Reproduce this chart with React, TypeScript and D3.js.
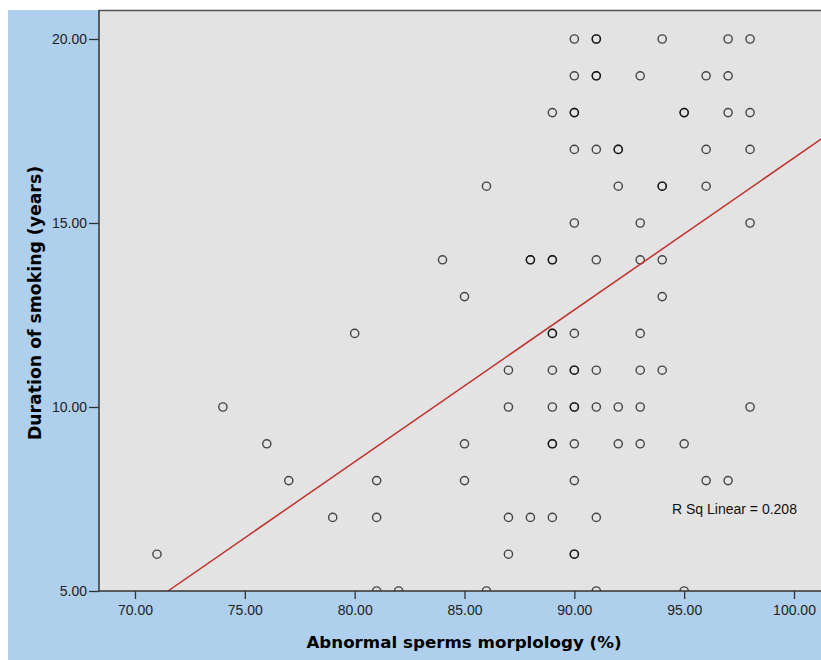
import * as d3 from "d3";
import { useEffect, useRef } from "react";

// values, one line per duration level
const morphologyPct = [
  90, 91, 91, 94, 97, 98,
  90, 91, 91, 93, 96, 97,
  89, 90, 90, 95, 95, 97, 98,
  90, 91, 92, 92, 96, 98,
  86, 92, 94, 94, 96,
  90, 93, 98,
  84, 88, 88, 89, 89, 91, 93, 94,
  85, 94,
  80, 89, 89, 90, 93,
  87, 89, 90, 90, 91, 93, 94,
  74, 87, 89, 90, 90, 91, 92, 93, 98,
  76, 85, 89, 89, 90, 92, 93, 95,
  77, 81, 85, 90, 96, 97,
  79, 81, 87, 88, 89, 91,
  71, 87, 90, 90,
  81, 82, 86, 91, 95,
];
const durationYears = [
  20, 20, 20, 20, 20, 20,
  19, 19, 19, 19, 19, 19,
  18, 18, 18, 18, 18, 18, 18,
  17, 17, 17, 17, 17, 17,
  16, 16, 16, 16, 16,
  15, 15, 15,
  14, 14, 14, 14, 14, 14, 14, 14,
  13, 13,
  12, 12, 12, 12, 12,
  11, 11, 11, 11, 11, 11, 11,
  10, 10, 10, 10, 10, 10, 10, 10, 10,
  9, 9, 9, 9, 9, 9, 9, 9,
  8, 8, 8, 8, 8, 8,
  7, 7, 7, 7, 7, 7,
  6, 6, 6, 6,
  5, 5, 5, 5, 5,
];

const xTicks = [70, 75, 80, 85, 90, 95, 100];
const yTicks = [5, 10, 15, 20];

// fit line as shown on the chart
const fitSlope = 0.413;
const fitIntercept = -24.53;
const rSquared = 0.208;

const W = 821;
const H = 660;

export default function App() {
  const svgRef = useRef<SVGSVGElement>(null);

  useEffect(() => {
    const svg = d3.select(svgRef.current);
    svg.selectAll("*").remove();

    const plot = { left: 99, top: 10, right: 821, bottom: 591 };

    const x = d3.scaleLinear().domain([70, 100]).range([135, 794]);
    const y = d3.scaleLinear().domain([5, 20]).range([591, 39]);

    svg.append("rect").attr("width", W).attr("height", H).attr("fill", "#fff");
    svg.append("rect")
      .attr("x", 8).attr("y", 10)
      .attr("width", W - 8).attr("height", H - 10)
      .attr("fill", "#afd0ec");

    svg.append("defs").append("clipPath").attr("id", "plotclip")
      .append("rect")
      .attr("x", plot.left).attr("y", plot.top)
      .attr("width", plot.right - plot.left).attr("height", plot.bottom - plot.top);

    svg.append("rect")
      .attr("x", plot.left).attr("y", plot.top)
      .attr("width", plot.right - plot.left).attr("height", plot.bottom - plot.top)
      .attr("fill", "#e3e3e3");

    const inner = svg.append("g").attr("clip-path", "url(#plotclip)");

    inner.selectAll("circle")
      .data(morphologyPct.map((m, i) => [m, durationYears[i]]))
      .enter()
      .append("circle")
      .attr("cx", d => x(d[0]))
      .attr("cy", d => y(d[1]))
      .attr("r", 4.1)
      .attr("fill", "none")
      .attr("stroke", "#000")
      .attr("stroke-opacity", 0.7)
      .attr("stroke-width", 1.4);

    const fx0 = (5 - fitIntercept) / fitSlope;
    const fx1 = x.invert(plot.right + 5);
    inner.append("line")
      .attr("x1", x(fx0)).attr("y1", y(5))
      .attr("x2", x(fx1)).attr("y2", y(fitIntercept + fitSlope * fx1))
      .attr("stroke", "#c0302c")
      .attr("stroke-width", 1.5);

    svg.append("text")
      .attr("x", 672).attr("y", 514)
      .attr("font-family", "Liberation Sans, Arial, sans-serif")
      .attr("font-size", 14)
      .attr("fill", "#111")
      .text(`R Sq Linear = ${rSquared.toFixed(3)}`);

    // frame lines
    svg.append("line")
      .attr("x1", plot.left).attr("x2", plot.right)
      .attr("y1", plot.top + 0.5).attr("y2", plot.top + 0.5)
      .attr("stroke", "#555").attr("stroke-width", 1.5);
    svg.append("line")
      .attr("x1", plot.left).attr("x2", plot.left)
      .attr("y1", plot.top).attr("y2", plot.bottom)
      .attr("stroke", "#333").attr("stroke-width", 1.5);
    svg.append("line")
      .attr("x1", plot.left).attr("x2", plot.right)
      .attr("y1", plot.bottom).attr("y2", plot.bottom)
      .attr("stroke", "#333").attr("stroke-width", 1.5);

    const xAxis = svg.append("g")
      .attr("transform", `translate(0,${plot.bottom})`)
      .call(d3.axisBottom(x).tickValues(xTicks).tickFormat(d3.format(".2f")).tickSize(8).tickPadding(6));
    const yAxis = svg.append("g")
      .attr("transform", `translate(${plot.left},0)`)
      .call(d3.axisLeft(y).tickValues(yTicks).tickFormat(d3.format(".2f")).tickSize(10).tickPadding(2));

    [xAxis, yAxis].forEach(a => {
      a.select(".domain").remove();
      a.selectAll("line").attr("stroke", "#333").attr("stroke-width", 1.3);
      a.selectAll("text")
        .attr("font-family", "Liberation Sans, Arial, sans-serif")
        .attr("font-size", 14)
        .attr("fill", "#222");
    });

    svg.append("text")
      .attr("x", 464).attr("y", 648)
      .attr("text-anchor", "middle")
      .attr("font-family", "DejaVu Sans, sans-serif")
      .attr("font-weight", "bold")
      .attr("font-size", 16.7)
      .attr("fill", "#000")
      .text("Abnormal sperms morplology (%)");

    svg.append("text")
      .attr("transform", `translate(41,303) rotate(-90)`)
      .attr("text-anchor", "middle")
      .attr("font-family", "DejaVu Sans, sans-serif")
      .attr("font-weight", "bold")
      .attr("font-size", 17.3)
      .attr("fill", "#000")
      .text("Duration of smoking (years)");
  }, []);

  return (
    <svg
      ref={svgRef}
      width={W}
      height={H}
      style={{ position: "absolute", left: 0, top: 0, display: "block" }}
    />
  );
}
